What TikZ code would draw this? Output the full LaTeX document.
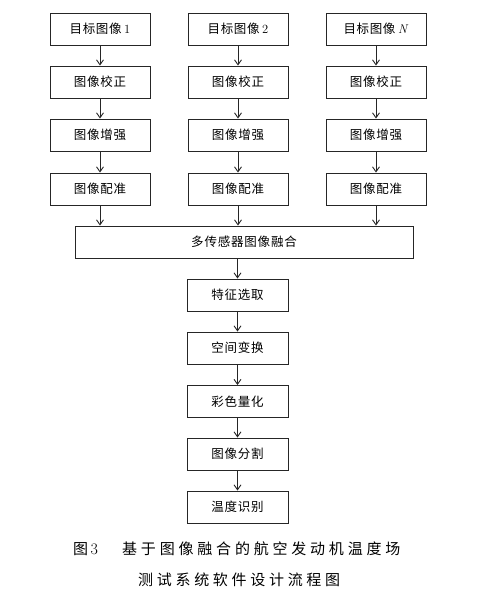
\documentclass[tikz,border=0pt]{standalone}
\usepackage{fontspec}
\usetikzlibrary{arrows.meta}
\newfontfamily\cjk{Noto Sans CJK SC}
\def\spaced#1#2{\def\spsep{#1}\spacedi#2\relax}
\def\spacedi#1{\ifx#1\relax\else#1\hspace{\spsep}\expandafter\spacedi\fi}
\begin{document}
\begin{tikzpicture}[x=1pt,y=-1pt,
  box/.style={draw=black!85,line width=0.9pt,minimum width=100pt,minimum height=32pt,inner sep=0pt,font=\fontsize{12.5}{14}\selectfont},
  arr/.style={draw=black!85,line width=0.9pt,-{Straight Barb[length=5pt,width=7pt,line width=0.9pt]}},
  captxt/.style={inner sep=0pt,anchor=west,font=\fontsize{15}{17}\selectfont}]
\useasboundingbox (0,0) rectangle (490,598);
% columns
\foreach \c/\x/\lab in {a/100/{1},b/238/{2},c/376/{\textit{N}}}{
  \node[box] (\c1) at (\x,29) {\cjk\spaced{0.6pt}{目标图像}\hspace{2pt}\rmfamily\lab};
  \node[box] (\c2) at (\x,82) {\cjk\spaced{0.8pt}{图像校正}};
  \node[box] (\c3) at (\x,135) {\cjk\spaced{0.8pt}{图像增强}};
  \node[box] (\c4) at (\x,189) {\cjk\spaced{0.8pt}{图像配准}};
  \draw[arr] (\c1) -- (\c2);
  \draw[arr] (\c2) -- (\c3);
  \draw[arr] (\c3) -- (\c4);
}
\node[box,minimum width=338pt] (f) at (244,242) {\cjk\spaced{0.8pt}{多传感器图像融合}};
\draw[arr] (a4) -- (a4 |- f.north);
\draw[arr] (b4) -- (b4 |- f.north);
\draw[arr] (c4) -- (c4 |- f.north);
\node[box,minimum width=101pt] (s1) at (237.5,295) {\cjk\spaced{0.8pt}{特征选取}};
\node[box,minimum width=101pt] (s2) at (237.5,348) {\cjk\spaced{0.8pt}{空间变换}};
\node[box,minimum width=101pt] (s3) at (237.5,401.5) {\cjk\spaced{0.8pt}{彩色量化}};
\node[box,minimum width=101pt] (s4) at (237.5,454) {\cjk\spaced{0.8pt}{图像分割}};
\node[box,minimum width=101pt] (s5) at (237.5,507) {\cjk\spaced{0.8pt}{温度识别}};
\draw[arr] (f.south -| s1) -- (s1);
\draw[arr] (s1) -- (s2);
\draw[arr] (s2) -- (s3);
\draw[arr] (s3) -- (s4);
\draw[arr] (s4) -- (s5);
% caption
\node[captxt] (c1) at (73,549) {\cjk 图\rmfamily\,\fontsize{16}{17}\selectfont 3};
\node[captxt] (c2) at (122,549) {\cjk\spaced{3.8pt}{基于图像融合的航空发动机温度场}};
\node[captxt] (c3) at (138,580) {\cjk\spaced{3.7pt}{测试系统软件设计流程图}};
\end{tikzpicture}
\end{document}
